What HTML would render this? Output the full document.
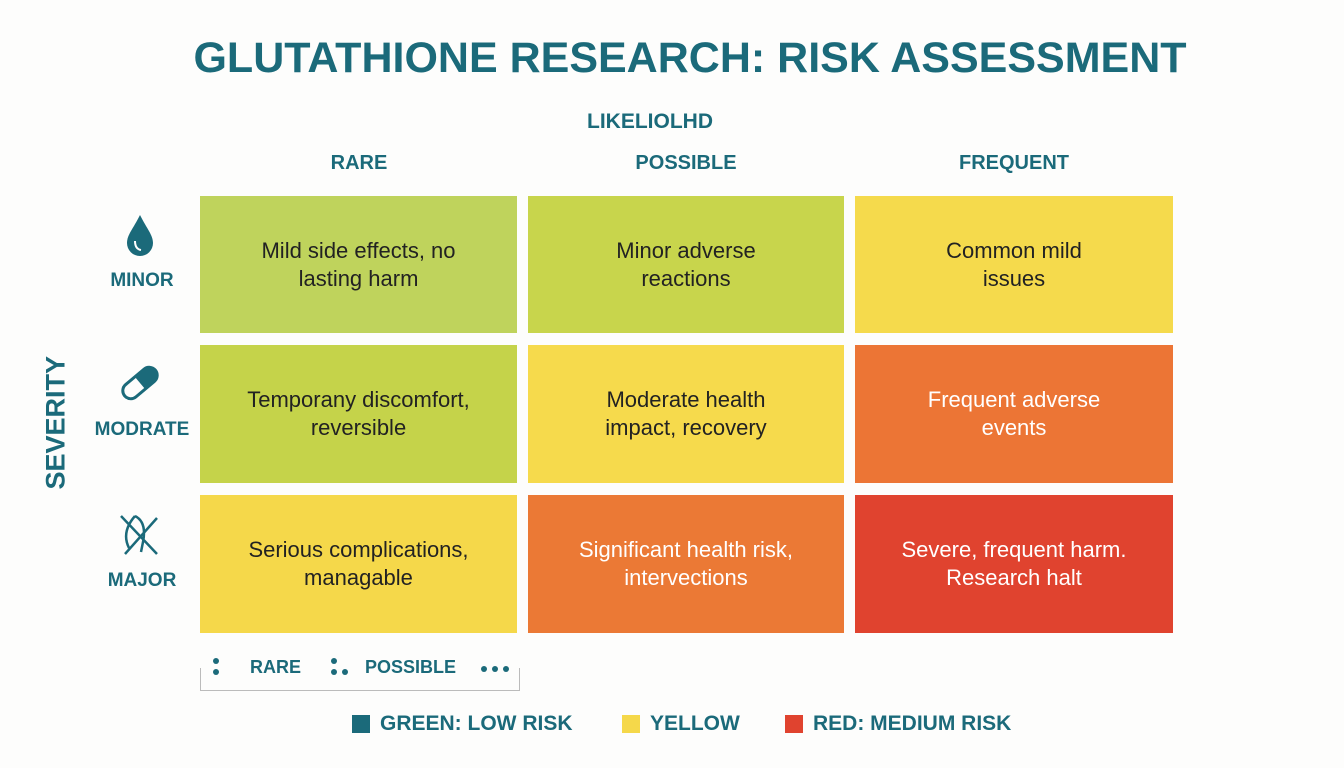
<!DOCTYPE html>
<html><head><style>
body{margin:0;width:1344px;height:768px;background:#fdfdfc;font-family:"Liberation Sans",sans-serif;position:relative;overflow:hidden;color:#1b6a7a}
.a{position:absolute}
.t{font-weight:bold}
.c{position:absolute;display:flex;align-items:center;justify-content:center;text-align:center;font-size:22px;line-height:28px;color:#222}
.w{color:#fff}
.h{position:absolute;font-weight:bold;font-size:20px;text-align:center;width:200px}
.r{position:absolute;font-weight:bold;font-size:19px;text-align:center;width:110px;left:87px}
</style></head><body>
<div class="a t" style="left:0;width:1380px;top:34px;text-align:center;font-size:43px">GLUTATHIONE RESEARCH: RISK ASSESSMENT</div>
<div class="a t" style="left:587px;top:110px;font-size:21px">LIKELIOLHD</div>
<div class="h" style="left:259px;top:152px">RARE</div>
<div class="h" style="left:586px;top:152px">POSSIBLE</div>
<div class="h" style="left:914px;top:152px">FREQUENT</div>
<div class="a t" style="left:6px;top:424px;font-size:27px;transform:rotate(-90deg);transform-origin:center;width:100px;text-align:center">SEVERITY</div>
<svg class="a" style="left:125px;top:213px" width="30" height="44"><path d="M15 2 C22 16 28 22 28 30 A13 13 0 0 1 2 30 C2 22 8 16 15 2Z" fill="#1b6a7a"/><path d="M10 28 Q10 36 16 37" stroke="#fff" stroke-width="2" fill="none"/></svg>
<div class="r" style="top:270px">MINOR</div>
<svg class="a" style="left:117px;top:360px" width="46" height="46"><g transform="rotate(-40 23 23)"><rect x="3" y="15" width="40" height="16" rx="8" fill="none" stroke="#1b6a7a" stroke-width="3"/><path d="M23 15 H35 A8 8 0 0 1 35 31 H23Z" fill="#1b6a7a"/></g></svg>
<div class="r" style="top:419px">MODRATE</div>
<svg class="a" style="left:117px;top:512px" width="46" height="46" fill="none" stroke="#1b6a7a" stroke-width="2.5"><path d="M4 4 L40 42 M40 6 L8 42 M18 4 Q4 20 12 36 M18 4 Q30 10 26 30 L24 40"/></svg>
<div class="r" style="top:570px">MAJOR</div>
<div class="c" style="left:200px;top:196px;width:317px;height:137px;background:#bfd35c">Mild side effects, no<br>lasting harm</div>
<div class="c" style="left:528px;top:196px;width:316px;height:137px;background:#c8d54c">Minor adverse<br>reactions</div>
<div class="c" style="left:855px;top:196px;width:318px;height:137px;background:#f5da4c">Common mild<br>issues</div>
<div class="c" style="left:200px;top:345px;width:317px;height:138px;background:#c5d34a">Temporany discomfort,<br>reversible</div>
<div class="c" style="left:528px;top:345px;width:316px;height:138px;background:#f6da4c">Moderate health<br>impact, recovery</div>
<div class="c w" style="left:855px;top:345px;width:318px;height:138px;background:#ec7535">Frequent adverse<br>events</div>
<div class="c" style="left:200px;top:495px;width:317px;height:138px;background:#f5d84a">Serious complications,<br>managable</div>
<div class="c w" style="left:528px;top:495px;width:316px;height:138px;background:#eb7935">Significant health risk,<br>intervections</div>
<div class="c w" style="left:855px;top:495px;width:318px;height:138px;background:#e0432f">Severe, frequent harm.<br>Research halt</div>
<div class="a" style="left:200px;top:668px;width:318px;height:22px;border:1.5px solid #bbb;border-top:none"></div>
<svg class="a" style="left:205px;top:655px" width="320" height="30" fill="#1b6a7a"><circle cx="11" cy="6" r="3"/><circle cx="11" cy="17" r="3"/><circle cx="129" cy="6" r="3"/><circle cx="129" cy="17" r="3"/><circle cx="140" cy="17" r="3"/><circle cx="279" cy="14" r="3"/><circle cx="290" cy="14" r="3"/><circle cx="301" cy="14" r="3"/></svg>
<div class="a t" style="left:250px;top:657px;font-size:18px">RARE</div>
<div class="a t" style="left:365px;top:657px;font-size:18px">POSSIBLE</div>
<div class="a" style="left:352px;top:715px;width:18px;height:18px;background:#1b6a7a"></div>
<div class="a t" style="left:380px;top:712px;font-size:21px">GREEN: LOW RISK</div>
<div class="a" style="left:622px;top:715px;width:18px;height:18px;background:#f5d84a"></div>
<div class="a t" style="left:650px;top:712px;font-size:21px">YELLOW</div>
<div class="a" style="left:785px;top:715px;width:18px;height:18px;background:#e0432f"></div>
<div class="a t" style="left:813px;top:712px;font-size:21px">RED: MEDIUM RISK</div>
</body></html>
